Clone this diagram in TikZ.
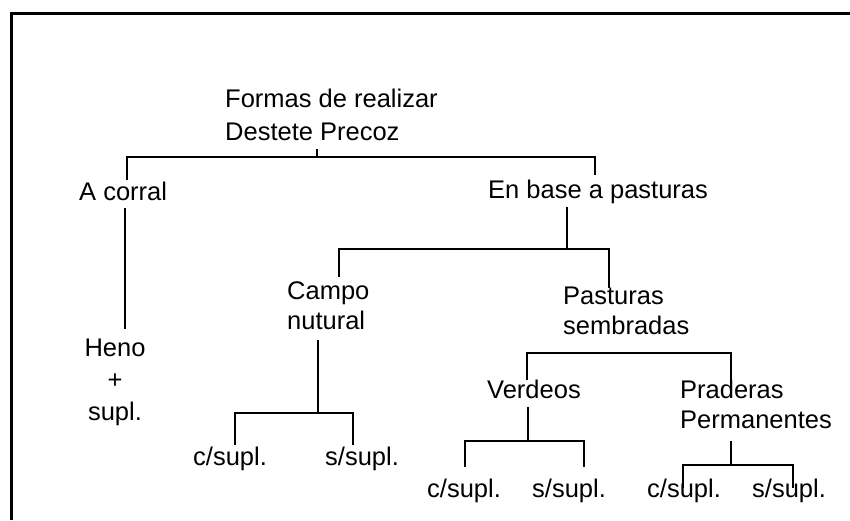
\documentclass[tikz,border=0pt]{standalone}
\usepackage{fontspec}
\setmainfont{Liberation Sans}
\usetikzlibrary{calc}
\begin{document}
\begin{tikzpicture}[x=1pt,y=-1pt,
  lbl/.style={inner sep=0pt, font=\fontsize{25.5}{30}\selectfont},
  lblL/.style={lbl, align=left},
  lblC/.style={lbl, align=center},
  link/.style={line width=1.8pt, line join=miter},
  frameline/.style={line width=3pt}]
\useasboundingbox (0,0) rectangle (850,520);
% frame
\coordinate (fa) at (11,520);
\coordinate (fb) at (11,13);
\coordinate (fc) at (850,13);
\draw[frameline] (fa) -- (fb) -- (fc);

% texts
\node[lblL, anchor=north west] (formas) at (225,88.7) {Formas de realizar\\[3pt]Destete Precoz};
\node[lbl, anchor=base west] (acorral) at (79,200) {A corral};
\node[lbl, anchor=base west] (enbase) at (488,198) {En base a pasturas};
\node[lblC, anchor=north] (heno) at (115,339) {Heno\\[2pt]+\\[2pt]supl.};
\node[lblL, anchor=north west] (campo) at (287,281.7) {Campo\\nutural};
\node[lblL, anchor=north west] (pasturas) at (563,286.7) {Pasturas\\sembradas};
\node[lbl, anchor=base west] (cs1) at (193,465) {c/supl.};
\node[lbl, anchor=base west] (ss1) at (325,465) {s/supl.};
\node[lbl, anchor=base west] (verdeos) at (487,398) {Verdeos};
\node[lblL, anchor=north west] (praderas) at (680,379.7) {Praderas\\Permanentes};
\node[lbl, anchor=base west] (cs2) at (427,497) {c/supl.};
\node[lbl, anchor=base west] (ss2) at (532,497) {s/supl.};
\node[lbl, anchor=base west] (cs3) at (647,497) {c/supl.};
\node[lbl, anchor=base west] (ss3) at (752,497) {s/supl.};

% root bracket
\coordinate (r0) at (317,157);
\coordinate (r1) at (127,157);
\coordinate (r2) at (595,157);
\draw[link] ($(formas.south -| r0)+(0,8)$) -- (r0);
\draw[link] ($(acorral.north -| r1)+(0,-1)$) -- (r1) -- (r2) -- ($(enbase.north -| r2)+(0,-4)$);

% A corral -> Heno
\coordinate (h0) at (125,0);
\draw[link] ($(acorral.south -| h0)+(0,8)$) -- ($(heno.north -| h0)+(0,-10)$);

% En base bracket
\coordinate (e0) at (567,249);
\coordinate (e1) at (339,249);
\coordinate (e2) at (609,249);
\draw[link] ($(enbase.south -| e0)+(0,4)$) -- (e0);
\draw[link] ($(campo.north -| e1)+(0,-5)$) -- (e1) -- (e2) -- ($(pasturas.north -| e2)+(0,1)$);

% Campo bracket
\coordinate (c0) at (318,413);
\coordinate (c1) at (235,413);
\coordinate (c2) at (353,413);
\draw[link] ($(campo.south -| c0)+(0,10)$) -- (c0);
\draw[link] ($(cs1.north -| c1)+(0,-1)$) -- (c1) -- (c2) -- ($(ss1.north -| c2)+(0,-1)$);

% Pasturas sembradas bracket
\coordinate (p1) at (527,353);
\coordinate (p2) at (731,353);
\draw[link] ($(verdeos.north -| p1)+(0,1)$) -- (p1) -- (p2) -- ($(praderas.north -| p2)+(0,2)$);

% Verdeos bracket
\coordinate (v0) at (528,441);
\coordinate (v1) at (465,441);
\coordinate (v2) at (584,441);
\draw[link] ($(verdeos.south -| v0)+(0,9)$) -- (v0);
\draw[link] ($(cs2.north -| v1)+(0,-11)$) -- (v1) -- (v2) -- ($(ss2.north -| v2)+(0,-11)$);

% Praderas bracket
\coordinate (q0) at (731,465);
\coordinate (q1) at (683,465);
\coordinate (q2) at (793,465);
\draw[link] ($(praderas.south -| q0)+(0,12)$) -- (q0);
\draw[link] ($(cs3.north -| q1)+(0,10)$) -- (q1) -- (q2) -- ($(ss3.north -| q2)+(0,10)$);
\end{tikzpicture}
\end{document}
